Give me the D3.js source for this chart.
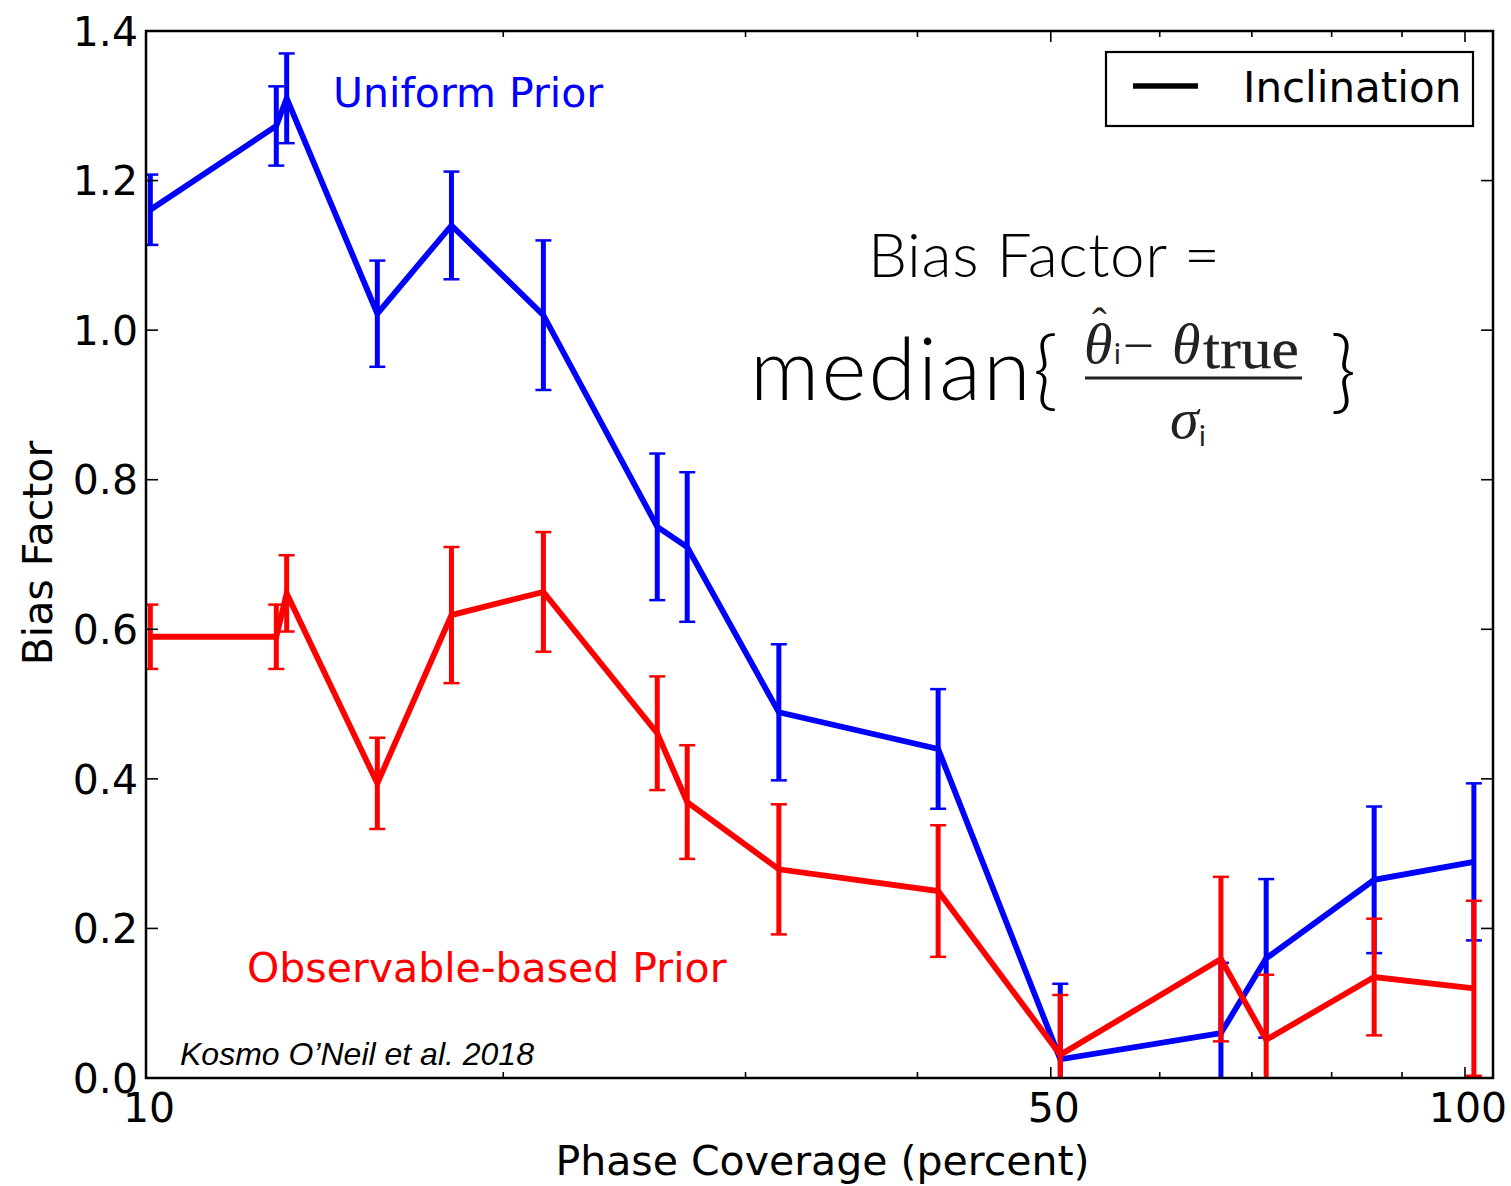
<!DOCTYPE html>
<html>
<head>
<meta charset="utf-8">
<script src="https://cdn.jsdelivr.net/npm/d3@7"></script>
<style>
  html, body { margin: 0; padding: 0; background: #fff; }
  svg { display: block; }
</style>
</head>
<body>
<svg id="chart" width="1511" height="1186"></svg>
<script>
// Phase coverage (percent) of each simulated run
const phaseCoverage = [11.08, 13.68, 13.92, 16.2, 18.34, 21.39, 25.88, 27.21, 31.72, 41.41, 50.8, 66.47, 71.7, 85.9, 101.5];

// Bias factor for the inclination, uniform prior
const uniformBias = [1.161, 1.273, 1.310, 1.022, 1.140, 1.020, 0.737, 0.710, 0.489, 0.440, 0.025, 0.060, 0.160, 0.265, 0.289];
const uniformErr  = [0.047, 0.053, 0.060, 0.071, 0.072, 0.100, 0.098, 0.100, 0.091, 0.080, 0.101, 0.094, 0.106, 0.098, 0.105];

// Bias factor for the inclination, observable-based prior
const observableBias = [0.590, 0.590, 0.648, 0.394, 0.619, 0.650, 0.461, 0.369, 0.279, 0.250, 0.031, 0.159, 0.051, 0.135, 0.120];
const observableErr  = [0.043, 0.043, 0.051, 0.061, 0.091, 0.080, 0.076, 0.076, 0.087, 0.088, 0.080, 0.110, 0.087, 0.078, 0.117];

// Axis ticks
const xDomain = [11, 104.8];
const xMajorTicks = [11, 50, 100];
const xMajorLabels = ["10", "50", "100"];
const xMinorTicks = [20, 30, 40, 60, 70, 80, 90];
const yTicks = [0, 0.2, 0.4, 0.6, 0.8, 1.0, 1.2, 1.4];

const svg = d3.select("#chart");
const plot = { left: 146, right: 1493, top: 31, bottom: 1078 };

const x = d3.scaleLog().domain(xDomain).range([plot.left, plot.right]);
const y = d3.scaleLinear().domain([0, 1.4]).range([plot.bottom, plot.top]);

const sansFont = "'DejaVu Sans', sans-serif";

svg.append("defs").append("clipPath").attr("id", "plot-clip")
  .append("rect")
  .attr("x", plot.left).attr("y", plot.top)
  .attr("width", plot.right - plot.left).attr("height", plot.bottom - plot.top);

const marks = svg.append("g").attr("clip-path", "url(#plot-clip)");

function drawSeries(values, errors, color) {
  const pts = phaseCoverage.map((p, i) => ({ p, v: values[i], e: errors[i] }));
  const g = marks.append("g");
  const bars = g.selectAll("g.err").data(pts).join("g").attr("class", "err");
  bars.append("line")
    .attr("x1", d => x(d.p)).attr("x2", d => x(d.p))
    .attr("y1", d => y(d.v - d.e)).attr("y2", d => y(d.v + d.e))
    .attr("stroke", color).attr("stroke-width", 5);
  [-1, 1].forEach(s => {
    bars.append("line")
      .attr("x1", d => x(d.p) - 8).attr("x2", d => x(d.p) + 8)
      .attr("y1", d => y(d.v + s * d.e)).attr("y2", d => y(d.v + s * d.e))
      .attr("stroke", color).attr("stroke-width", 2.5);
  });
  g.append("path")
    .datum(pts)
    .attr("fill", "none").attr("stroke", color).attr("stroke-width", 5.8)
    .attr("stroke-linejoin", "miter")
    .attr("d", d3.line().x(d => x(d.p)).y(d => y(d.v)));
}

drawSeries(uniformBias, uniformErr, "#0000ff");
drawSeries(observableBias, observableErr, "#ff0000");

// Frame and inward ticks on all four sides
const axes = svg.append("g").attr("stroke", "#000").attr("stroke-width", 1.6);
xMajorTicks.forEach(t => {
  axes.append("line").attr("x1", x(t)).attr("x2", x(t)).attr("y1", plot.bottom).attr("y2", plot.bottom - 11);
  axes.append("line").attr("x1", x(t)).attr("x2", x(t)).attr("y1", plot.top).attr("y2", plot.top + 11);
});
xMinorTicks.forEach(t => {
  axes.append("line").attr("x1", x(t)).attr("x2", x(t)).attr("y1", plot.bottom).attr("y2", plot.bottom - 6);
  axes.append("line").attr("x1", x(t)).attr("x2", x(t)).attr("y1", plot.top).attr("y2", plot.top + 6);
});
yTicks.forEach(t => {
  axes.append("line").attr("x1", plot.left).attr("x2", plot.left + 12).attr("y1", y(t)).attr("y2", y(t));
  axes.append("line").attr("x1", plot.right).attr("x2", plot.right - 12).attr("y1", y(t)).attr("y2", y(t));
});
svg.append("rect")
  .attr("x", plot.left).attr("y", plot.top)
  .attr("width", plot.right - plot.left).attr("height", plot.bottom - plot.top)
  .attr("fill", "none").attr("stroke", "#000").attr("stroke-width", 2.5);

// Tick labels
svg.append("g").selectAll("text").data(yTicks).join("text")
  .attr("x", 138).attr("y", d => y(d)).attr("dy", "0.36em")
  .attr("text-anchor", "end")
  .attr("font-family", sansFont).attr("font-size", 41).attr("fill", "#000")
  .text(d => d3.format(".1f")(d));

svg.append("g").selectAll("text").data(xMajorTicks).join("text")
  .attr("x", (d, i) => x(d) + 3).attr("y", 1122)
  .attr("text-anchor", "middle")
  .attr("font-family", sansFont).attr("font-size", 41).attr("fill", "#000")
  .text((d, i) => xMajorLabels[i]);

// Axis titles
svg.append("text")
  .attr("x", (plot.left + plot.right) / 2 + 3).attr("y", 1175)
  .attr("text-anchor", "middle")
  .attr("font-family", sansFont).attr("font-size", 41)
  .text("Phase Coverage (percent)");

svg.append("text")
  .attr("transform", "translate(52,553) rotate(-90)")
  .attr("text-anchor", "middle")
  .attr("font-family", sansFont).attr("font-size", 41)
  .text("Bias Factor");

// Series annotations
svg.append("text")
  .attr("x", 333).attr("y", 107)
  .attr("font-family", sansFont).attr("font-size", 41).attr("fill", "#0000ff")
  .text("Uniform Prior");

svg.append("text")
  .attr("x", 247).attr("y", 982)
  .attr("font-family", sansFont).attr("font-size", 41).attr("fill", "#ff0000")
  .text("Observable-based Prior");

svg.append("text")
  .attr("x", 180).attr("y", 1065)
  .attr("font-family", "'Liberation Sans', Arial, sans-serif")
  .attr("font-style", "italic").attr("font-size", 32).attr("fill", "#000")
  .text("Kosmo O\u2019Neil et al. 2018");

// Legend
const legend = svg.append("g");
legend.append("rect")
  .attr("x", 1106).attr("y", 52).attr("width", 367).attr("height", 74)
  .attr("fill", "#fff").attr("stroke", "#000").attr("stroke-width", 2.2);
legend.append("line")
  .attr("x1", 1133).attr("x2", 1198).attr("y1", 86).attr("y2", 86)
  .attr("stroke", "#000").attr("stroke-width", 5.5);
legend.append("text")
  .attr("x", 1243).attr("y", 102)
  .attr("font-family", sansFont).attr("font-size", 42)
  .text("Inclination");

// Definition of the bias factor
const eq = svg.append("g");
const eqFont = "Lato, 'Open Sans', sans-serif";
const serif = "'Liberation Serif', 'Times New Roman', serif";
eq.append("text")
  .attr("x", 868).attr("y", 277)
  .attr("font-family", eqFont).attr("font-weight", 300).attr("font-size", 62)
  .attr("textLength", 352).attr("lengthAdjust", "spacing")
  .text("Bias Factor =");
eq.append("text")
  .attr("x", 750).attr("y", 400)
  .attr("font-family", eqFont).attr("font-weight", 300).attr("font-size", 86)
  .attr("textLength", 308).attr("lengthAdjust", "spacing")
  .text("median{");
eq.append("text")
  .attr("x", 1330).attr("y", 402)
  .attr("font-family", eqFont).attr("font-weight", 300).attr("font-size", 90)
  .text("}");

const frac = eq.append("g").attr("fill", "#222");
frac.append("text")
  .attr("x", 1084).attr("y", 363)
  .attr("font-family", serif).attr("font-style", "italic").attr("font-size", 58)
  .text("\u03B8");
frac.append("text")
  .attr("x", 1092).attr("y", 338)
  .attr("font-family", serif).attr("font-size", 44)
  .text("\u02C6");
frac.append("text")
  .attr("x", 1114).attr("y", 364)
  .attr("font-family", eqFont).attr("font-size", 28)
  .text("i");
frac.append("text")
  .attr("x", 1126).attr("y", 358)
  .attr("font-family", serif).attr("font-size", 50)
  .text("\u2013");
frac.append("text")
  .attr("x", 1172).attr("y", 363)
  .attr("font-family", serif).attr("font-style", "italic").attr("font-size", 58)
  .text("\u03B8");
frac.append("text")
  .attr("x", 1203).attr("y", 368)
  .attr("font-family", serif).attr("font-size", 56)
  .attr("stroke", "#222").attr("stroke-width", 0.3)
  .attr("textLength", 96).attr("lengthAdjust", "spacingAndGlyphs")
  .text("true");
frac.append("line")
  .attr("x1", 1085).attr("x2", 1302).attr("y1", 378).attr("y2", 378)
  .attr("stroke", "#222").attr("stroke-width", 3);
frac.append("text")
  .attr("x", 1170).attr("y", 438)
  .attr("font-family", serif).attr("font-style", "italic").attr("font-size", 58)
  .text("\u03C3");
frac.append("text")
  .attr("x", 1199).attr("y", 446)
  .attr("font-family", eqFont).attr("font-size", 28)
  .text("i");
</script>
</body>
</html>
